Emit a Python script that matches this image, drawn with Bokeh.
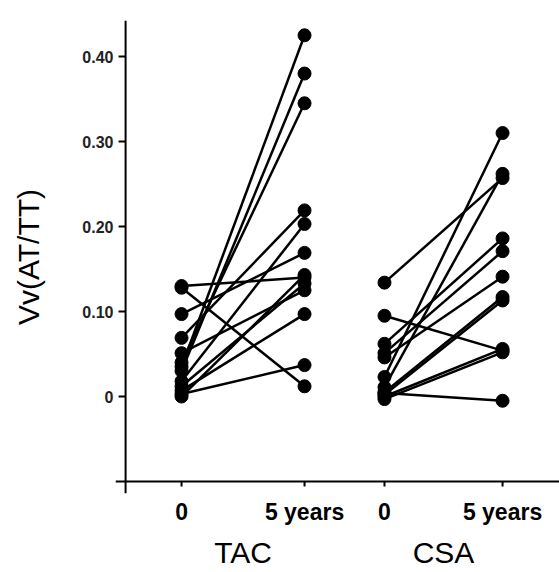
from bokeh.plotting import figure
from bokeh.models import Span, FixedTicker, Range1d, LinearAxis
from bokeh.embed import file_html
from bokeh.resources import INLINE

# ---- data ----
x_positions = [1.0, 2.0, 2.65, 3.61]          # TAC 0, TAC 5y, CSA 0, CSA 5y
x_tick_labels = ["0", "5 years", "0", "5 years"]
group_names = ["TAC", "CSA"]

tac_before = [0.130, 0.128, 0.097, 0.069, 0.051, 0.040, 0.035, 0.030, 0.018, 0.012, 0.007, 0.003, 0.000]
tac_after  = [0.140, 0.012, 0.169, 0.219, 0.125, 0.345, 0.425, 0.380, 0.203, 0.133, 0.097, 0.037, 0.143]

csa_before = [0.134, 0.095, 0.062, 0.051, 0.046, 0.023, 0.011, 0.005, 0.002, 0.000, -0.003, 0.004]
csa_after  = [0.257, 0.054, 0.186, 0.171, 0.141, 0.310, 0.262, 0.117, 0.113, 0.056, 0.052, -0.005]

y_ticks = [0.0, 0.1, 0.2, 0.3, 0.4]
y_tick_labels = ["0", "0.10", "0.20", "0.30", "0.40"]

FONT = "Liberation Sans"

p = figure(width=559, height=572, output_backend="svg", toolbar_location=None,
           x_range=Range1d(0.463, 4.073), y_range=Range1d(-0.1141, 0.4424),
           min_border_left=115, min_border_right=0, min_border_top=20, min_border_bottom=79)
p.outline_line_color = None
p.xgrid.visible = False
p.ygrid.visible = False
p.background_fill_color = "white"
p.border_fill_color = "white"

x_axis_y = -0.1
y_axis_x = 0.545

# axis lines (cross each other like the original)
p.add_layout(Span(location=y_axis_x, dimension="height", line_color="black", line_width=2))
p.add_layout(Span(location=x_axis_y, dimension="width", line_color="black", line_width=2))

# tick marks
p.segment(x0=[0.488] * len(y_ticks), x1=[y_axis_x] * len(y_ticks), y0=y_ticks, y1=y_ticks,
          line_color="black", line_width=2)
p.segment(x0=x_positions, x1=x_positions, y0=[x_axis_y] * 4, y1=[-0.106] * 4,
          line_color="black", line_width=2)

# paired lines and dots
for before, after, xb, xa in [(tac_before, tac_after, x_positions[0], x_positions[1]),
                              (csa_before, csa_after, x_positions[2], x_positions[3])]:
    n = len(before)
    p.segment(x0=[xb] * n, y0=before, x1=[xa] * n, y1=after, line_color="black", line_width=2.5)
    p.scatter(x=[xb] * n, y=before, size=13, color="black")
    p.scatter(x=[xa] * n, y=after, size=13, color="black")

# y axis
p.yaxis.ticker = FixedTicker(ticks=y_ticks)
p.yaxis.major_label_overrides = {t: l for t, l in zip(y_ticks, y_tick_labels)}
p.yaxis.axis_line_color = None
p.yaxis.major_tick_line_color = None
p.yaxis.minor_tick_line_color = None
p.yaxis.major_tick_out = 0
p.yaxis.major_tick_in = 0
p.yaxis.major_label_standoff = 2
p.yaxis.major_label_text_font = FONT
p.yaxis.major_label_text_font_style = "bold"
p.yaxis.major_label_text_font_size = "16px"
p.yaxis.major_label_text_color = "#222222"
p.yaxis.axis_label = "Vv(AT/TT)"
p.yaxis.axis_label_text_font = FONT
p.yaxis.axis_label_text_font_style = "normal"
p.yaxis.axis_label_text_font_size = "30px"
p.yaxis.axis_label_standoff = 34
p.yaxis.axis_label_text_color = "black"

# x axis (time points)
p.xaxis.ticker = FixedTicker(ticks=x_positions)
p.xaxis.major_label_overrides = {t: l for t, l in zip(x_positions, x_tick_labels)}
p.xaxis.axis_line_color = None
p.xaxis.major_tick_line_color = None
p.xaxis.minor_tick_line_color = None
p.xaxis.major_tick_out = 0
p.xaxis.major_tick_in = 0
p.xaxis.major_label_standoff = 5
p.xaxis.major_label_text_font = FONT
p.xaxis.major_label_text_font_style = "bold"
p.xaxis.major_label_text_font_size = "23px"
p.xaxis.major_label_text_color = "black"

# second x axis: group names
group_x = [(x_positions[0] + x_positions[1]) / 2, (x_positions[2] + x_positions[3]) / 2]
gaxis = LinearAxis(ticker=FixedTicker(ticks=group_x),
                   major_label_overrides={g: n for g, n in zip(group_x, group_names)})
gaxis.axis_line_color = None
gaxis.major_tick_line_color = None
gaxis.minor_tick_line_color = None
gaxis.major_tick_out = 0
gaxis.major_tick_in = 0
gaxis.major_label_standoff = 8
gaxis.major_label_text_font = FONT
gaxis.major_label_text_font_style = "normal"
gaxis.major_label_text_font_size = "30px"
gaxis.major_label_text_color = "black"
p.add_layout(gaxis, "below")

open("out.html", "w").write(file_html(p, INLINE))
